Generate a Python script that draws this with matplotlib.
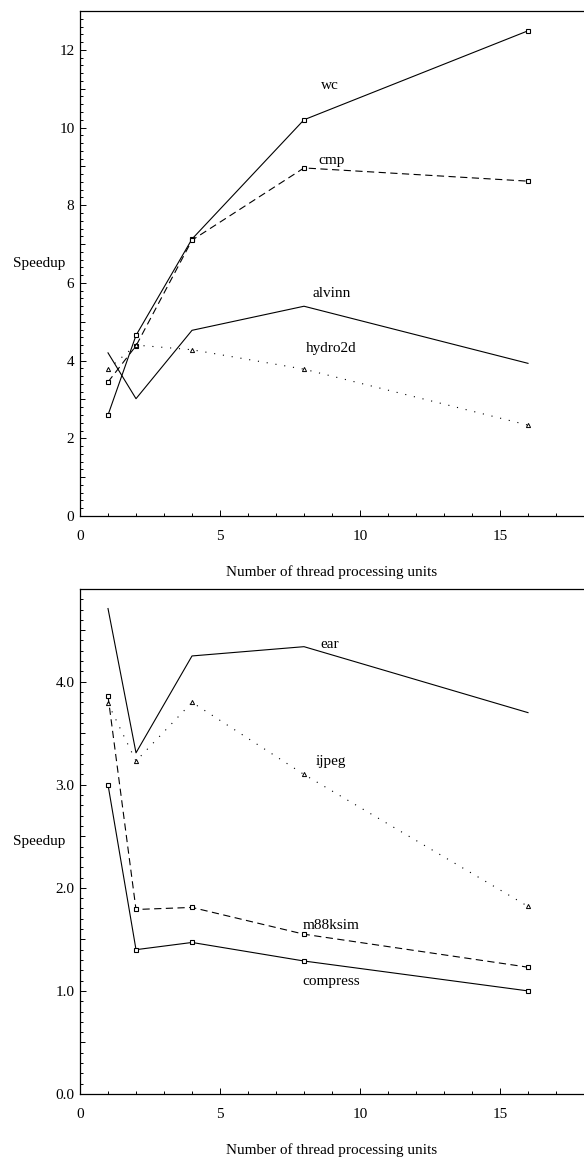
import matplotlib.pyplot as plt
from matplotlib.ticker import MultipleLocator

plt.rcParams["font.family"] = ["Liberation Serif", "DejaVu Serif"]
plt.rcParams["font.size"] = 11

# threads on the x axis
threads = [1, 2, 4, 8, 16]

# top panel
wc = [2.6, 4.65, 7.13, 10.2, 12.49]
cmp_ = [3.45, 4.38, 7.1, 8.96, 8.62]
alvinn = [4.2, 3.02, 4.78, 5.4, 3.93]
hydro2d = [3.78, 4.4, 4.28, 3.78, 2.34]

# bottom panel
ear = [4.71, 3.31, 4.25, 4.34, 3.70]
ijpeg = [3.79, 3.23, 3.8, 3.10, 1.82]
m88ksim = [3.86, 1.79, 1.81, 1.55, 1.23]
compress = [3.0, 1.40, 1.47, 1.29, 1.0]

solid = "-"
dashed = (0, (6.5, 4))
dotted = (0, (1, 7))

fig = plt.figure(figsize=(5.84, 11.58), dpi=100)
ax1 = fig.add_axes([0.137, 0.5544, 0.863, 0.4361])
ax2 = fig.add_axes([0.137, 0.0553, 0.863, 0.4361])

line_kw = dict(color="black", lw=0.8)
sq = dict(marker="s", ms=3.2, mfc="white", mec="black", mew=0.8)
tri = dict(marker="^", ms=3, mfc="white", mec="black", mew=0.7)

# 上圖
ax1.plot(threads, wc, ls=solid, **line_kw, **sq)
ax1.plot(threads, cmp_, ls=dashed, **line_kw, **sq)
ax1.plot(threads, alvinn, ls=solid, **line_kw)
ax1.plot(threads, hydro2d, ls=dotted, **line_kw, **tri)
ax1.text(8.6, 11.08, "wc", ha="left", va="center")
ax1.text(8.5, 9.15, "cmp", ha="left", va="center")
ax1.text(8.3, 5.73, "alvinn", ha="left", va="center")
ax1.text(8.05, 4.32, "hydro2d", ha="left", va="center")
ax1.set_ylim(0, 13)
ax1.yaxis.set_major_locator(MultipleLocator(2))
ax1.yaxis.set_minor_locator(MultipleLocator(0.2))

# 下圖
ax2.plot(threads, ear, ls=solid, **line_kw)
ax2.plot(threads, ijpeg, ls=dotted, **line_kw, **tri)
ax2.plot(threads, m88ksim, ls=dashed, **line_kw, **sq)
ax2.plot(threads, compress, ls=solid, **line_kw, **sq)
ax2.text(8.6, 4.36, "ear", ha="left", va="center")
ax2.text(8.43, 3.23, "ijpeg", ha="left", va="center")
ax2.text(7.96, 1.63, "m88ksim", ha="left", va="center")
ax2.text(7.93, 1.09, "compress", ha="left", va="center")
ax2.set_ylim(0, 4.9)
ax2.yaxis.set_major_locator(MultipleLocator(1))
ax2.yaxis.set_minor_locator(MultipleLocator(0.1))
ax2.yaxis.set_major_formatter(plt.FormatStrFormatter("%.1f"))

# 中等長度的刻度 (上圖奇數, 下圖 x.5)
for ax, mid in [(ax1, [1, 3, 5, 7, 9, 11]), (ax2, [0.5, 1.5, 2.5, 3.5, 4.5])]:
    sec = ax.secondary_yaxis("left")
    sec.set_yticks(mid)
    sec.tick_params(direction="in", length=3.6, width=0.7, labelleft=False)
    sec.yaxis.set_minor_locator(plt.NullLocator())
    sec.spines["left"].set_visible(False)

for ax in [ax1, ax2]:
    ax.set_xlim(0, 18)
    ax.xaxis.set_major_locator(MultipleLocator(5))
    ax.xaxis.set_minor_locator(MultipleLocator(1))
    ax.spines["right"].set_visible(False)
    for s in ["left", "bottom", "top"]:
        ax.spines[s].set_linewidth(0.9)
    ax.tick_params(which="both", direction="in", top=False, right=False, width=0.7)
    ax.tick_params(which="major", length=4.5)
    ax.tick_params(which="minor", length=2.3)
    ax.tick_params(axis="x", which="major", pad=10)
    ax.tick_params(axis="y", which="major", pad=4)
    ax.set_xlabel("Number of thread processing units")
    ax.xaxis.set_label_coords(0.5, -0.097)
    ax.set_ylabel("Speedup", rotation=0, ha="left", va="center")
    ax.yaxis.set_label_coords(-0.133, 0.5)

fig.savefig("out.png", dpi=100)
